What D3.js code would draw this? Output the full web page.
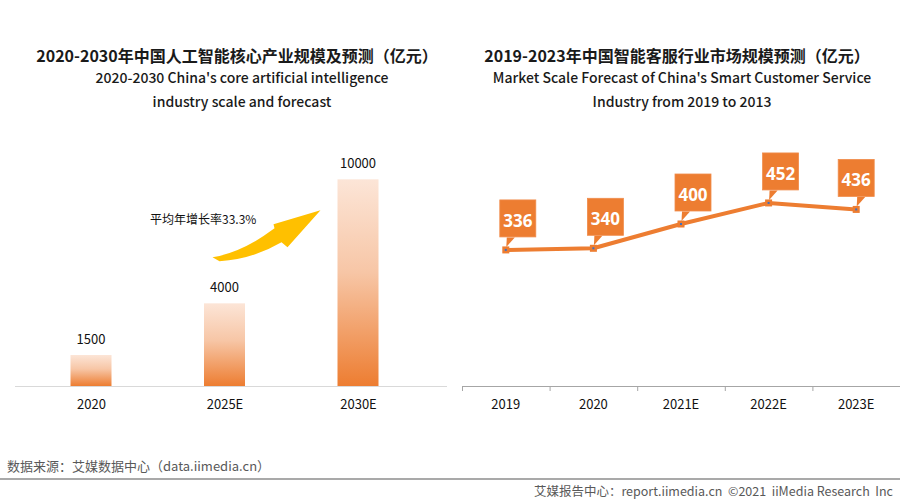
<!DOCTYPE html>
<html><head><meta charset="utf-8">
<script src="https://cdn.jsdelivr.net/npm/d3@7/dist/d3.min.js"></script>
<style>
body{margin:0;background:#fff;}
svg{display:block;font-family:"Noto Sans CJK SC","Noto Sans",sans-serif;}
.pre{white-space:pre;}
</style></head>
<body><svg id="c" width="900" height="500"></svg>
<script>
// ---- data ----
const leftCategories = ["2020", "2025E", "2030E"];
const leftValues = [1500, 4000, 10000];
const leftTitle = "2020-2030年中国人工智能核心产业规模及预测（亿元）";
const leftSubtitle = ["2020-2030 China's core artificial intelligence", "industry scale and forecast"];
const growthNote = "平均年增长率33.3%";

const rightCategories = ["2019", "2020", "2021E", "2022E", "2023E"];
const rightValues = [336, 340, 400, 452, 436];
const rightTitle = "2019-2023年中国智能客服行业市场规模预测（亿元）";
const rightSubtitle = ["Market Scale Forecast of China's Smart Customer Service", "Industry from 2019 to 2013"];

const sourceNote = "数据来源：艾媒数据中心（data.iimedia.cn）";
const footerNote = "艾媒报告中心：report.iimedia.cn  ©2021  iiMedia Research  Inc";

// ---- drawing ----
const svg = d3.select("#c");
const orange = "#ED7D31";
const baseY = 386;
const narrow = "'Liberation Sans Narrow','Noto Sans CJK SC',sans-serif";

const defs = svg.append("defs");
const grad = defs.append("linearGradient").attr("id","barGrad")
  .attr("x1",0).attr("y1",0).attr("x2",0).attr("y2",1);
grad.append("stop").attr("offset","0%").attr("stop-color","#FCE5D7");
grad.append("stop").attr("offset","45%").attr("stop-color","#F7C6A6");
grad.append("stop").attr("offset","100%").attr("stop-color","#ED7D31");

// titles
function titles(cx, title, subs){
  svg.append("text").attr("x",cx).attr("y",55).attr("text-anchor","middle")
    .attr("dominant-baseline","central").attr("font-size",16).attr("font-weight",700)
    .attr("fill","#1a1a1a").text(title);
  subs.forEach((s,i)=>svg.append("text").attr("x",cx+5).attr("y",77+i*24)
    .attr("text-anchor","middle").attr("dominant-baseline","central")
    .attr("font-size",14).attr("font-weight",500).attr("fill","#1a1a1a").text(s));
}
titles(237, leftTitle, leftSubtitle);
titles(677, rightTitle, rightSubtitle);

// ---- left bar chart ----
const xL = d3.scalePoint().domain(leftCategories).range([91, 358]);
const yL = d3.scaleLinear().domain([0, 12000]).range([baseY, 138]);
const barW = 41;
const gL = svg.append("g");
gL.append("line").attr("x1",15).attr("x2",447).attr("y1",baseY+0.5).attr("y2",baseY+0.5)
  .attr("stroke","#d9d9d9").attr("stroke-width",1.2);
gL.selectAll("rect.bar").data(leftValues).join("rect").attr("class","bar")
  .attr("x",(d,i)=>xL(leftCategories[i])-barW/2).attr("width",barW)
  .attr("y",d=>yL(d)).attr("height",d=>baseY-yL(d)).attr("fill","url(#barGrad)");
gL.selectAll("text.val").data(leftValues).join("text").attr("class","val")
  .attr("x",(d,i)=>xL(leftCategories[i])).attr("y",d=>yL(d)-17)
  .attr("text-anchor","middle").attr("dominant-baseline","central")
  .attr("font-size",13).attr("fill","#111").text(d=>d);
const axL = d3.axisBottom(xL).tickSize(0).tickPadding(14);
const axLg = gL.append("g").attr("transform",`translate(0,${baseY})`).call(axL);
axLg.select(".domain").remove();
axLg.selectAll("text").attr("font-size",13).attr("font-family",narrow).attr("fill","#111");

// growth arrow positioned relative to the 2025E bar
const ax0 = xL(leftCategories[1]);
const ox = ax0 - 12, oy = yL(leftValues[1]) - 45;
const arrow = d3.path();
arrow.moveTo(ox, oy-1);
arrow.quadraticCurveTo(ox+30, oy-6, ox+62, oy-30);
arrow.lineTo(ox+61, oy-34);
arrow.lineTo(ox+108, oy-48);
arrow.lineTo(ox+75, oy-11);
arrow.lineTo(ox+69, oy-16);
arrow.quadraticCurveTo(ox+40, oy+1, ox+7, oy+3);
arrow.closePath();
gL.append("path").attr("d",arrow.toString()).attr("fill","#FFC000");
gL.append("text").attr("x",150).attr("y",oy-40).attr("dominant-baseline","central")
  .attr("font-size",12).attr("fill","#111").text(growthNote);

// ---- right line chart ----
const xR = d3.scaleBand().domain(rightCategories).range([462, 900]).padding(0);
const yR = d3.scaleLinear().domain([0, 600]).range([baseY, 143]);
const gR = svg.append("g");
gR.append("line").attr("x1",462).attr("x2",900).attr("y1",baseY+0.5).attr("y2",baseY+0.5)
  .attr("stroke","#a6a6a6").attr("stroke-width",1);
const bounds = rightCategories.map(c=>xR(c));
gR.selectAll("line.tk").data(bounds).join("line").attr("class","tk")
  .attr("x1",d=>d+0.5).attr("x2",d=>d+0.5).attr("y1",baseY).attr("y2",baseY+5)
  .attr("stroke","#a6a6a6").attr("stroke-width",1);
const axR = d3.axisBottom(xR).tickSize(0).tickPadding(14);
const axRg = gR.append("g").attr("transform",`translate(0,${baseY})`).call(axR);
axRg.select(".domain").remove();
axRg.selectAll("text").attr("font-size",13).attr("font-family",narrow).attr("fill","#111");

const cx = (d,i)=>xR(rightCategories[i]) + xR.bandwidth()/2;
const line = d3.line().x((d,i)=>cx(d,i)).y(d=>yR(d));
gR.append("path").datum(rightValues).attr("d",line).attr("fill","none")
  .attr("stroke",orange).attr("stroke-width",4).attr("stroke-linejoin","round");
gR.selectAll("rect.mk").data(rightValues).join("rect").attr("class","mk")
  .attr("x",(d,i)=>cx(d,i)-3.5).attr("y",d=>yR(d)-3.5).attr("width",7).attr("height",7)
  .attr("fill",orange);
gR.selectAll("rect.mkc").data(rightValues).join("rect").attr("class","mkc")
  .attr("x",(d,i)=>cx(d,i)-1).attr("y",d=>yR(d)-1).attr("width",2).attr("height",2)
  .attr("fill","#3d6fc2");

// callouts
const boxW = 36, boxH = 37, gap = 13;
const n = rightValues.length;
const callouts = gR.selectAll("g.co").data(rightValues).join("g").attr("class","co");
callouts.each(function(d,i){
  const px = cx(d,i), py = yR(d);
  const left = (i===n-1) ? px - boxW/2 : px - 6;
  const bottom = py - gap;
  const g = d3.select(this);
  const tail = d3.path();
  tail.moveTo(px+1, bottom+0.5);
  tail.lineTo(px+9, bottom+0.5);
  tail.lineTo(px+0.5, py-3);
  tail.closePath();
  g.append("rect").attr("x",left).attr("y",bottom-boxH).attr("width",boxW).attr("height",boxH)
    .attr("fill",orange).attr("stroke","#F08C4C").attr("stroke-width",0.8);
  g.append("path").attr("d",tail.toString()).attr("fill",orange);
  g.append("text").attr("x",left+boxW/2).attr("y",bottom-boxH/2+2)
    .attr("text-anchor","middle").attr("dominant-baseline","central")
    .attr("font-family","'Open Sans','Noto Sans',sans-serif").attr("font-weight",700)
    .attr("font-size",17).attr("fill","#fff").text(d);
});

// ---- footer ----
svg.append("text").attr("x",7).attr("y",465).attr("dominant-baseline","central")
  .attr("font-family",narrow).attr("font-size",13).attr("fill","#595959").text(sourceNote);
svg.append("line").attr("x1",0).attr("x2",900).attr("y1",479).attr("y2",479)
  .attr("stroke","#8c8c8c").attr("stroke-width",1.5);
svg.append("text").attr("class","pre").attr("x",893).attr("y",490).attr("text-anchor","end").attr("dominant-baseline","central")
  .attr("font-family",narrow).attr("font-size",12.5).attr("fill","#595959").text(footerNote);
</script></body></html>
